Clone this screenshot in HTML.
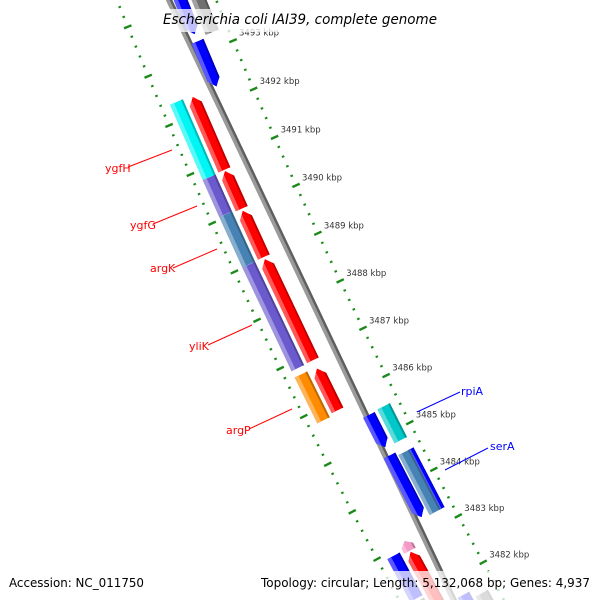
<!DOCTYPE html>
<html><head><meta charset="utf-8"><style>
html,body{margin:0;padding:0;background:#fff;width:600px;height:600px;overflow:hidden}
#wrap{position:relative;width:600px;height:600px;overflow:hidden}
svg{display:block;overflow:hidden}
</style></head><body>
<div id="wrap">
<svg id="map" xmlns="http://www.w3.org/2000/svg" width="600" height="600" viewBox="0 0 600 600">
<rect x="0" y="0" width="600" height="600" fill="#fff"/>
<g id="ticks"></g>
<g id="backbone"></g>
<g id="features"></g>
<g id="labels" font-family="'DejaVu Sans','Liberation Sans',sans-serif" font-size="11">
  <line x1="128" y1="167" x2="172" y2="150" stroke="#f00" stroke-width="1"/>
  <text x="105" y="172" fill="#f00">ygfH</text>
  <line x1="153" y1="224" x2="197" y2="206" stroke="#f00" stroke-width="1"/>
  <text x="130" y="229" fill="#f00">ygfG</text>
  <line x1="173" y1="268" x2="217" y2="249" stroke="#f00" stroke-width="1"/>
  <text x="150" y="272" fill="#f00">argK</text>
  <line x1="208" y1="345" x2="252" y2="325" stroke="#f00" stroke-width="1"/>
  <text x="189" y="350" fill="#f00">yliK</text>
  <line x1="249" y1="429" x2="292" y2="409" stroke="#f00" stroke-width="1"/>
  <text x="226" y="434" fill="#f00">argP</text>
  <line x1="460" y1="392" x2="417" y2="412" stroke="#00f" stroke-width="1"/>
  <text x="461" y="395" fill="#00f">rpiA</text>
  <line x1="488" y1="448" x2="445" y2="470" stroke="#00f" stroke-width="1"/>
  <text x="490" y="450" fill="#00f">serA</text>
</g>
<rect x="157" y="9" width="287" height="23" fill="#fff" fill-opacity="0.75"/>
<text x="163" y="24" font-family="'DejaVu Sans','Liberation Sans',sans-serif" font-style="italic" font-size="14" fill="#000" textLength="274" lengthAdjust="spacingAndGlyphs">Escherichia coli IAI39, complete genome</text>
<rect x="0" y="571" width="600" height="29" fill="#fff" fill-opacity="0.75"/>
<text x="9" y="587" font-family="'DejaVu Sans','Liberation Sans',sans-serif" font-size="12" fill="#000" textLength="135" lengthAdjust="spacingAndGlyphs">Accession: NC_011750</text>
<text x="261" y="587" font-family="'DejaVu Sans','Liberation Sans',sans-serif" font-size="12" fill="#000" textLength="329" lengthAdjust="spacingAndGlyphs">Topology: circular; Length: 5,132,068 bp; Genes: 4,937</text>
</svg>
</div>
<script>
// ---- data ----
const majorTicks = [3482,3483,3484,3485,3486,3487,3488,3489,3490,3491,3492,3493];
const tickLabels = ["3482 kbp","3483 kbp","3484 kbp","3485 kbp","3486 kbp","3487 kbp","3488 kbp","3489 kbp","3490 kbp","3491 kbp","3492 kbp","3493 kbp"];
const featNames = ["red-1","red-2","red-3","red-4","red-5","pink-1","red-6","ygfH","ygfG","argK","yliK","argP","blue-o1","gray-o1","blue-1","blue-2","blue-3","blue-4","blue-5","gray-i1","rpiA","serA-edge","serA","gray-i2"];
const featStart = [3490.82,3490.02,3489.02,3486.87,3485.82,3482.85,3481.3,3490.81,3490.05,3489.01,3486.86,3485.77,3482.0,3480.9,3493.39,3492.32,3484.79,3483.30,3480.9,3493.30,3484.78,3483.27,3483.27,3480.9];
const featEnd   = [3492.32,3490.80,3489.98,3488.98,3486.70,3483.06,3482.83,3492.35,3490.81,3490.05,3489.01,3486.73,3482.91,3481.95,3494.8,3493.25,3485.48,3484.62,3481.64,3494.8,3485.50,3484.55,3484.55,3481.5];
const featTrack = ["or","or","or","or","or","or","or","oc","oc","oc","oc","oc","oc","oc","ib","ib","ib","ib","ib","ic","ic","ic","ic","ic"];
const featColor = ["#ff0000","#ff0000","#ff0000","#ff0000","#ff0000","#f59ac6","#ff0000","#00f5f5","#6a5acd","#4682b4","#6a5acd","#ff8c00","#0000ff","#6e6e6e","#0000ff","#0000ff","#0000ff","#0000ff","#0000ff","#707070","#00c8c8","#0000ff","#4682b4","#707070"];
const featDir = [1,1,1,1,1,1,1,0,0,0,0,0,0,0,-1,-1,-1,-1,-1,0,0,0,0,0];

// ---- geometry (circular map) ----
const CX=5509, CY=-2169, RB=5766, RI=5720, RO=5812, A0=154.64, DPK=0.527, K0=3488;
const TRACKS = {or:[6.5,19.5], oc:[23,37], ib:[-19.5,-6.5], ic:[-37,-23]};
const NS="http://www.w3.org/2000/svg";
function ang(k){return (A0+(k-K0)*DPK)*Math.PI/180;}
function pt(r,k){const a=ang(k);return [CX+r*Math.cos(a), CY+r*Math.sin(a)];}
function P(p){return p[0].toFixed(2)+","+p[1].toFixed(2);}
function mk(tag,attrs,parent){const e=document.createElementNS(NS,tag);for(const a in attrs)e.setAttribute(a,attrs[a]);parent.appendChild(e);return e;}
function mix(hex,t,w){const n=parseInt(hex.slice(1),16);let r=n>>16,g=(n>>8)&255,b=n&255;const m=w?255:0;r=Math.round(r+(m-r)*t);g=Math.round(g+(m-g)*t);b=Math.round(b+(m-b)*t);return "rgb("+r+","+g+","+b+")";}
function shapePts(k1,k2,r1,r2,dir){
  const tip=Math.min(0.15,(k2-k1)*0.5), rm=(r1+r2)/2;
  if(dir===1){const t=k2-tip;return [pt(r1,k1),pt(r1,t),pt(rm,k2),pt(r2,t),pt(r2,k1)];}
  if(dir===-1){const t=k1+tip;return [pt(r1,k2),pt(r1,t),pt(rm,k1),pt(r2,t),pt(r2,k2)];}
  return [pt(r1,k1),pt(r1,k2),pt(r2,k2),pt(r2,k1)];
}
function bandPts(k1,k2,r1,r2){return [pt(r1,k1),pt(r1,k2),pt(r2,k2),pt(r2,k1)];}

// ticks
const tg=document.getElementById('ticks');
[RI,RO].forEach((R,ri)=>{
  for(let i=0;i<=70;i++){
    const k=3480.8+i*0.2, isMajor=Math.abs(k-Math.round(k))<1e-6;
    const h=isMajor?4:1.3;
    const a=pt(R-h,k), b=pt(R+h,k);
    const l=mk('line',{x1:a[0],y1:a[1],x2:b[0],y2:b[1],stroke:'#1a8a1a','stroke-width':isMajor?2.4:2},tg);
    
    
  }
});
majorTicks.forEach((k,i)=>{
  const p=pt(RI,k);
  const t=mk('text',{x:(p[0]+6).toFixed(1),y:(p[1]-5).toFixed(1),'font-family':"'DejaVu Sans','Liberation Sans',sans-serif",'font-size':'8.5',fill:'#333'},tg);
  t.textContent=tickLabels[i];
  
  
});

// backbone
const bg=document.getElementById('backbone');
const bb=mk('polygon',{points:bandPts(3481.0,3494.9,RB-3,RB+3).map(P).join(' '),fill:'#9a9a9a'},bg);


const bd=mk('polygon',{points:bandPts(3481.0,3494.9,RB-3,RB-0.6).map(P).join(' '),fill:'#5e5e5e'},bg);



// features
const fg=document.getElementById('features');
const defs=mk('defs',{},document.getElementById('map'));
featStart.forEach((s,i)=>{
  const e=featEnd[i], tr=TRACKS[featTrack[i]], r1=RB+tr[0], r2=RB+tr[1], col=featColor[i];
  let ra=r1, rb=r2;
  if(featNames[i]==='serA-edge'){ra=RB-38; rb=RB-33;}
  if(featNames[i]==='serA'){ra=RB-33.5; rb=RB-21;}
  const pts=shapePts(s,e,ra,rb,featDir[i]).map(P).join(' ');
  const cp=mk('clipPath',{id:'cp'+i},defs);
  mk('polygon',{points:pts},cp);
  const g=mk('g',{'clip-path':'url(#cp'+i+')'},fg);
  
  
  const w=rb-ra;
  const base=mk('polygon',{points:pts,fill:col},g);
  
  
  const lt=mk('polygon',{points:bandPts(s-0.3,e+0.3,rb-w*0.3,rb+1).map(P).join(' '),fill:mix(col,0.35,true)},g);
  
  
  const dk=mk('polygon',{points:bandPts(s-0.3,e+0.3,ra-1,ra+w*0.15).map(P).join(' '),fill:mix(col,0.25,false)},g);
  
  
});
</script>
</body></html>
